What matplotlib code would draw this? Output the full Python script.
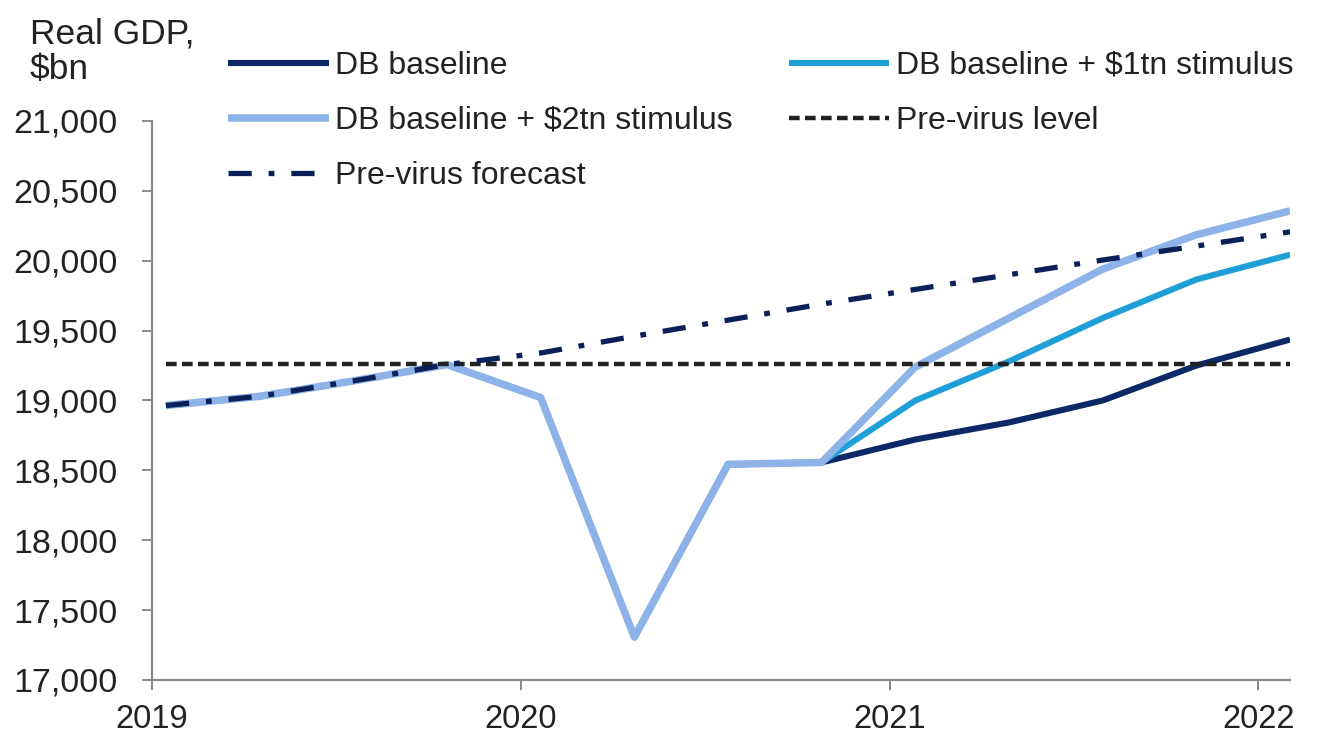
import numpy as np
import matplotlib
matplotlib.use("Agg")
import matplotlib.pyplot as plt

plt.rcParams['font.family'] = ['Liberation Sans', 'DejaVu Sans']

# ---- data (quarterly, real GDP $bn) ----
quarter_index = np.arange(13)          # 2019Q1 ... 2022Q1
history = [18964, 19030, 19140, 19257, 19021, 17307, 18543, 18557]
baseline_future = [18721, 18843, 19000, 19250, 19436]
stim1_future = [19000, 19280, 19590, 19866, 20043]
stim2_future = [19240, 19590, 19940, 20186, 20357]
previrus_forecast = [18964, 19030, 19140, 19257, 19340, 19460, 19575, 19690,
                     19795, 19900, 20005, 20105, 20207]
previrus_level = 19264
year_labels = ['2019', '2020', '2021', '2022']
y_ticks = [17000, 17500, 18000, 18500, 19000, 19500, 20000, 20500, 21000]

baseline = history + baseline_future
stim1 = history + stim1_future
stim2 = history + stim2_future

# x positions in decimal years (points sit ~2 weeks into each quarter)
x = 2019.038 + 0.254 * quarter_index

c_base = '#0c2866'
c_1tn = '#1e9fd8'
c_2tn = '#8db3e8'
c_fc = '#0b2059'
c_lvl = '#222222'

fig = plt.figure(figsize=(13.25, 7.43), dpi=100)
ax = fig.add_axes([152/1325, 1-680/743, (1290-152)/1325, (680-121)/743])

l1, = ax.plot(x, baseline, color=c_base, lw=4.4, solid_capstyle='butt', label='DB baseline', zorder=3)
l2, = ax.plot(x, stim1, color=c_1tn, lw=4.4, solid_capstyle='butt', label='DB baseline + $1tn stimulus', zorder=4)
l3, = ax.plot(x, stim2, color=c_2tn, lw=5.4, solid_capstyle='butt', label='DB baseline + $2tn stimulus', zorder=5)
l4, = ax.plot(x, [previrus_level] * len(x), color=c_lvl, lw=3.2, dashes=(2.4, 1.2),
              dash_capstyle='butt', label='Pre-virus level', zorder=6)
l5, = ax.plot(x, previrus_forecast, color=c_fc, lw=3.8, dashes=(4.4, 3.2, 1.1, 3.2),
              dash_capstyle='butt', label='Pre-virus forecast', zorder=7)

ax.set_xlim(2019, x[-1])
ax.set_ylim(17000, 21000)
ax.set_xticks([int(y) for y in year_labels])
ax.set_xticklabels(year_labels)
ax.set_yticks(y_ticks)
ax.set_yticklabels([f'{v:,}' for v in y_ticks])

for s in ['top', 'right']:
    ax.spines[s].set_visible(False)
for s in ['left', 'bottom']:
    ax.spines[s].set_color('#8a8a8a')
    ax.spines[s].set_linewidth(1.6)
ax.tick_params(axis='both', colors='#8a8a8a', width=1.4, length=7, direction='out',
               labelcolor='#222222')
ax.tick_params(axis='y', pad=18, labelsize=24.5)
ax.tick_params(axis='x', pad=10, labelsize=23.5)

fig.text(30/1325, 1-18/743, 'Real GDP,\n$bn', ha='left', va='top', fontsize=25.5,
         color='#222222', linespacing=1.06)

leg = fig.legend(handles=[l1, l3, l5, l2, l4], ncol=2, loc='upper left',
                 bbox_to_anchor=(228/1325, 1-51/743), frameon=False,
                 fontsize=23, handlelength=3.15, handletextpad=0.2,
                 columnspacing=1.75, labelspacing=0.78, borderpad=0, borderaxespad=0)
for t in leg.get_texts():
    t.set_color('#222222')

fig.savefig('out.png', dpi=100)
